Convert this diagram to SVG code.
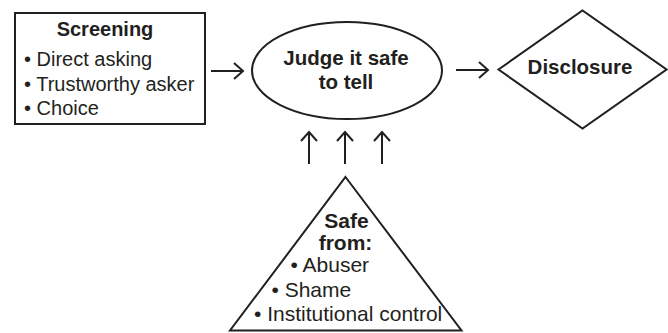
<svg xmlns="http://www.w3.org/2000/svg" width="668" height="333" viewBox="0 0 668 333">
<style>
.shape{fill:#fff;stroke:#231f20;stroke-width:2}
.conn{stroke:#231f20;stroke-width:2;fill:none}
text{font-family:"Liberation Sans",Arial,sans-serif;fill:#231f20}
.b{font-weight:bold;text-anchor:middle;font-size:20.5px}
.t{font-size:20px}
.tr{font-size:21px}
</style>
<defs>
<marker id="arr" markerUnits="userSpaceOnUse" viewBox="-12 -10 14 20" refX="0" refY="0" markerWidth="14" markerHeight="20" orient="auto">
<path d="M-9,-8 L0,0 L-9,8" fill="none" stroke="#231f20" stroke-width="2"/>
</marker>
</defs>
<rect width="668" height="333" fill="#fff"/>
<g id="connectors">
<line class="conn" x1="211" y1="71" x2="243" y2="71" marker-end="url(#arr)"/>
<line class="conn" x1="456" y1="70" x2="488" y2="70" marker-end="url(#arr)"/>
<line class="conn" x1="309" y1="164" x2="309" y2="132" marker-end="url(#arr)"/>
<line class="conn" x1="345" y1="164" x2="345" y2="132" marker-end="url(#arr)"/>
<line class="conn" x1="382" y1="164" x2="382" y2="132" marker-end="url(#arr)"/>
</g>
<g id="screening">
<rect class="shape" x="15" y="13" width="190" height="111"/>
<text class="b" x="105" y="36" style="font-size:20px">Screening</text>
<text class="t" x="24" y="66">• Direct asking</text>
<text class="t" x="24" y="90.5">• Trustworthy asker</text>
<text class="t" x="24" y="115">• Choice</text>
</g>
<g id="judge">
<ellipse class="shape" cx="347" cy="70.5" rx="95" ry="48.5"/>
<text class="b" x="346" y="65">Judge it safe</text>
<text class="b" x="346" y="89">to tell</text>
</g>
<g id="disclosure">
<polygon class="shape" points="498.5,69.5 582.5,10.5 666.5,69.5 582.5,128.5"/>
<text class="b" x="580" y="74">Disclosure</text>
</g>
<g id="safe">
<polygon class="shape" points="345.5,177 461.5,330.5 230,330.5"/>
<text class="b" x="346.5" y="228" style="font-size:21px">Safe</text>
<text class="b" x="345.5" y="250" style="font-size:21px">from:</text>
<text class="tr" x="290.5" y="272">• Abuser</text>
<text class="tr" x="271.5" y="296.5">• Shame</text>
<text class="tr" x="254" y="320.5">• Institutional control</text>
</g>
</svg>
